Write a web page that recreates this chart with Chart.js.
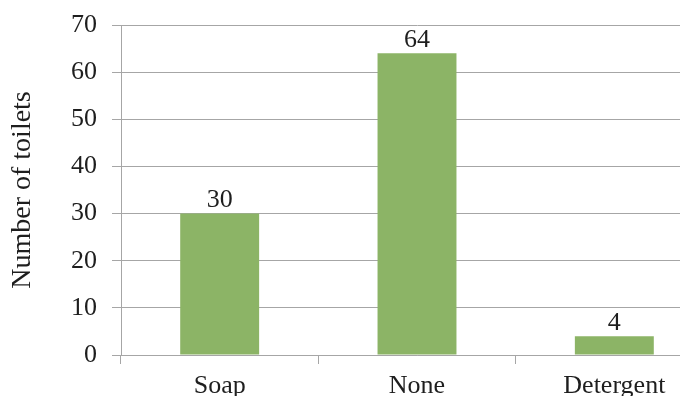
<!DOCTYPE html>
<html>
<head>
<meta charset="utf-8">
<script src="https://cdn.jsdelivr.net/npm/chart.js@4"></script>
<style>
  html, body { margin: 0; padding: 0; background: #fff; overflow: hidden; }
  #wrap { width: 680px; height: 396px; overflow: hidden; }
</style>
</head>
<body>
<div id="wrap"><canvas id="chart" width="720" height="396"></canvas></div>
<script>
const categories = ['Soap', 'None', 'Detergent'];
const toiletCounts = [30, 64, 4];
const yTicks = [0, 10, 20, 30, 40, 50, 60, 70];

const serif = '"Liberation Serif", "Times New Roman", serif';
const gridGray = '#a6a6a6';
const textColor = '#1e1e1e';

// value labels above each bar, positioned from the bar elements
const barLabels = {
    id: 'barLabels',
    afterDatasetsDraw(chart) {
        const ctx = chart.ctx;
        const meta = chart.getDatasetMeta(0);
        ctx.save();
        ctx.font = '26px ' + serif;
        ctx.fillStyle = textColor;
        ctx.textAlign = 'center';
        ctx.textBaseline = 'bottom';
        meta.data.forEach((bar, i) => {
            ctx.fillText(String(toiletCounts[i]), bar.x, bar.y);
        });
        ctx.restore();
    }
};

document.addEventListener('DOMContentLoaded', () => {
    const ctx = document.getElementById('chart').getContext('2d');
    new Chart(ctx, {
        type: 'bar',
        data: {
            labels: categories,
            datasets: [{
                data: toiletCounts,
                backgroundColor: '#8cb466',
                borderWidth: 0,
                categoryPercentage: 1,
                barPercentage: 0.4
            }]
        },
        options: {
            responsive: false,
            animation: false,
            layout: { padding: { top: 25, right: 7, left: 0, bottom: 0 } },
            plugins: {
                legend: { display: false },
                tooltip: { enabled: false }
            },
            scales: {
                x: {
                    afterFit: scale => {
                        scale.height = 41;
                        scale.paddingLeft = 0;
                        scale.paddingRight = 0;
                    },
                    grid: {
                        offset: true,
                        drawOnChartArea: false,
                        drawTicks: true,
                        tickLength: 9,
                        color: gridGray
                    },
                    border: { color: gridGray },
                    ticks: {
                        padding: 7,
                        color: textColor,
                        font: { family: serif, size: 26 }
                    }
                },
                y: {
                    min: 0,
                    max: 70,
                    afterFit: scale => {
                        scale.width = 121;
                        scale.paddingTop = 0;
                        scale.paddingBottom = 0;
                    },
                    afterBuildTicks: scale => { scale.ticks = yTicks.map(v => ({ value: v })); },
                    grid: {
                        color: gridGray,
                        tickLength: 9
                    },
                    border: { color: gridGray },
                    ticks: {
                        padding: 15,
                        color: textColor,
                        font: { family: serif, size: 26 }
                    },
                    title: {
                        display: true,
                        text: 'Number of toilets',
                        color: textColor,
                        padding: { top: 6, bottom: 0 },
                        font: { family: serif, size: 28 }
                    }
                }
            }
        },
        plugins: [barLabels]
    });
});
</script>
</body>
</html>
